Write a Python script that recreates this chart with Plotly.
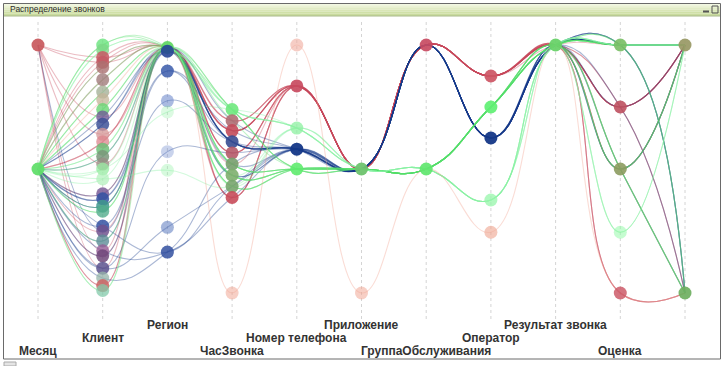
import plotly.graph_objects as go

# ---------------- data ----------------
dimensions = ["Месяц", "Клиент", "Регион", "ЧасЗвонка", "Номер телефона", "Приложение",
              "ГруппаОбслуживания", "Оператор", "Результат звонка", "Оценка", ""]

month_values = [100, 50]
client_values = [100, 98, 95, 93, 91, 86, 81, 78, 74, 71, 68, 64, 61, 58, 55, 52, 50, 46,
                 40, 38, 35, 33, 27, 25, 21, 17, 15, 10, 6, 3, 1]
region_values = [99, 97.5, 89.5, 77.5, 73, 57, 49.5, 26.5, 16.5]
hour_values = [74, 69.5, 65.5, 61, 56.5, 52, 47.5, 43, 38.5, 0]
phone_values = [100, 83.5, 66.5, 58, 50]
app_values = [50, 0]
group_values = [100, 50]
operator_values = [87.5, 75, 62.5, 37.5, 24.5]
result_values = [100]
score_values = [100, 75, 50, 24.5, 0]
last_values = [100, 0]

# records (category index per dimension)
rec_operator = [0]*18 + [2]*18 + [1]*15 + [3]*8 + [4]
rec_month = [1,0,0,1,1,1,0,0,1,1,0,1,1,0,1,1,1,0,
             1,1,1,1,1,1,1,1,1,0,1,1,1,1,1,1,1,1,
             1,1,1,1,1,1,1,1,1,1,1,1,1,1,1,
             1,1,1,1,1,1,1,1,
             1]
rec_client = [2,2,3,3,4,5,9,11,12,12,15,18,23,25,26,29,29,27,
              9,10,10,18,19,19,20,22,22,23,24,25,26,27,27,20,14,28,
              0,0,4,5,6,8,8,13,14,6,20,21,24,30,21,
              1,16,17,1,17,30,13,16,
              7]
rec_region = [0]*18 + \
             [1,1,0,1,2,0,1,2,8,3,0,8,1,7,5,0,1,8] + \
             [0]*15 + \
             [0,4,6,0,0,0,0,0] + \
             [0]
rec_hour = [2,1,2,4,1,8,2,8,4,2,8,4,2,1,8,4,2,5,
            3,3,1,3,3,5,3,2,7,3,6,8,3,7,4,3,6,5,
            0,5,1,6,7,0,5,6,7,5,6,0,7,6,5,
            0,0,7,0,6,0,7,0,
            9]
rec_phone = [1]*18 + [3]*18 + [4]*15 + [2]*8 + [0]
rec_app = [0]*59 + [1]
rec_group = [0]*36 + [1]*24
rec_result = [0]*60
rec_score = [1,1,1,4,1,2,1,4,1,2,1,0,1,2,1,4,1,2,
             0,0,1,0,2,0,1,0,0,2,0,0,0,0,2,0,0,0,
             0,0,2,0,0,2,0,2,0,2,0,0,2,0,2,
             3,0,3,0,3,0,0,0,
             4]
rec_last = [0,0,1,1,0,0,0,1,0,1,0,0,1,0,0,1,0,0,
            1,1,0,1,0,0,1,0,0,1,0,0,0,0,0,0,0,0,
            0,1,0,0,0,1,0,0,0,1,0,1,0,0,1,
            0,0,0,0,0,0,0,0,
            1]

# ---------------- style ----------------
operator_rgb = [(200, 72, 92), (82, 222, 104), (22, 58, 138), (132, 242, 160), (240, 158, 138)]

node_colors = [
    ["rgba(200,88,92,0.92)", "rgba(98,222,108,0.95)"],
    ["rgba(105,228,125,0.8)", "rgba(125,215,135,0.8)", "rgba(200,88,100,0.85)", "rgba(195,90,100,0.85)",
     "rgba(170,112,112,0.8)", "rgba(160,122,122,0.8)", "rgba(165,178,152,0.8)", "rgba(195,180,152,0.75)",
     "rgba(105,212,115,0.8)", "rgba(112,92,150,0.8)", "rgba(62,82,152,0.85)", "rgba(212,150,150,0.75)",
     "rgba(220,132,140,0.75)", "rgba(110,190,120,0.85)", "rgba(122,150,122,0.85)", "rgba(152,140,132,0.75)",
     "rgba(150,235,160,0.75)", "rgba(175,240,185,0.7)", "rgba(122,92,150,0.85)", "rgba(52,82,162,0.85)",
     "rgba(62,150,140,0.85)", "rgba(82,172,140,0.8)", "rgba(52,82,162,0.85)", "rgba(112,82,142,0.85)",
     "rgba(92,140,150,0.8)", "rgba(150,92,150,0.8)", "rgba(112,72,122,0.85)", "rgba(92,82,142,0.85)",
     "rgba(150,180,170,0.75)", "rgba(205,100,100,0.85)", "rgba(130,202,170,0.75)"],
    ["rgba(98,215,100,0.95)", "rgba(38,68,150,0.9)", "rgba(58,90,170,0.85)", "rgba(100,130,200,0.55)",
     "rgba(140,240,160,0.3)", "rgba(100,130,200,0.35)", "rgba(140,240,160,0.35)", "rgba(90,120,190,0.55)",
     "rgba(50,80,160,0.85)"],
    ["rgba(110,232,125,0.9)", "rgba(175,110,115,0.9)", "rgba(195,75,90,0.9)", "rgba(55,75,145,0.9)",
     "rgba(182,90,105,0.9)", "rgba(120,160,110,0.9)", "rgba(125,175,110,0.9)", "rgba(120,165,110,0.9)",
     "rgba(200,75,90,0.9)", "rgba(240,168,150,0.55)"],
    ["rgba(240,172,158,0.6)", "rgba(200,75,95,0.92)", "rgba(140,240,160,0.75)", "rgba(20,55,135,0.95)",
     "rgba(95,235,110,0.9)"],
    ["rgba(110,195,110,0.95)", "rgba(240,168,150,0.55)"],
    ["rgba(200,75,98,0.92)", "rgba(95,230,110,0.92)"],
    ["rgba(205,85,100,0.92)", "rgba(95,240,115,0.92)", "rgba(20,55,135,0.95)", "rgba(150,245,170,0.75)",
     "rgba(240,170,150,0.65)"],
    ["rgba(105,210,105,0.95)"],
    ["rgba(120,190,100,0.9)", "rgba(190,80,95,0.9)", "rgba(140,155,95,0.9)", "rgba(150,250,170,0.55)",
     "rgba(205,90,105,0.85)"],
    ["rgba(152,152,100,0.92)", "rgba(110,175,95,0.92)"],
]

W, H = 727, 366
value_lists = [month_values, client_values, region_values, hour_values, phone_values, app_values,
               group_values, operator_values, result_values, score_values, last_values]
rec_lists = [rec_month, rec_client, rec_region, rec_hour, rec_phone, rec_app,
             rec_group, rec_operator, rec_result, rec_score, rec_last]

fig = go.Figure()
n = len(rec_operator)
xs = list(range(len(dimensions)))
for i in range(n):
    ys = [value_lists[d][rec_lists[d][i]] for d in range(len(dimensions))]
    r, g, b = operator_rgb[rec_operator[i]]
    fig.add_trace(go.Scatter(x=xs, y=ys, mode="lines",
                             line=dict(color=f"rgba({r},{g},{b},0.36)", width=1.1,
                                       shape="spline", smoothing=1.3),
                             hoverinfo="skip", showlegend=False))

# one circle per used category node
mx, my, mc = [], [], []
for d in xs:
    used = sorted(set(rec_lists[d]))
    for c in used:
        mx.append(d)
        my.append(value_lists[d][c])
        mc.append(node_colors[d][c])
fig.add_trace(go.Scatter(x=mx, y=my, mode="markers",
                         marker=dict(size=13, color=mc, line=dict(width=0)),
                         hoverinfo="skip", showlegend=False))

def px(x):
    return x / W

def py(y):
    return 1 - y / H

shapes = []
for k in xs:
    shapes.append(dict(type="line", xref="x", yref="paper", x0=k, x1=k, y0=py(319), y1=py(20),
                       line=dict(color="#d4d4d4", width=1, dash="dot"), layer="below"))
bar_cols = ["#f2f7e2", "#ebf2d4", "#e2ecc6", "#d9e6b6", "#d0e0a8", "#c9db9e"]
for j, c in enumerate(bar_cols):
    y0 = 3 + j * 13 / len(bar_cols)
    y1 = 3 + (j + 1) * 13 / len(bar_cols)
    shapes.append(dict(type="rect", xref="paper", yref="paper", x0=px(3), x1=px(720),
                       y0=py(y1), y1=py(y0), fillcolor=c, line=dict(width=0), layer="below"))
shapes.append(dict(type="line", xref="paper", yref="paper", x0=px(3), x1=px(720), y0=py(16), y1=py(16),
                   line=dict(color="#a9b98a", width=1)))
shapes.append(dict(type="rect", xref="paper", yref="paper", x0=px(3.5), x1=px(720.5), y0=py(359), y1=py(3.5),
                   line=dict(color="#6a6a6a", width=1), fillcolor="rgba(0,0,0,0)"))
shapes.append(dict(type="line", xref="paper", yref="paper", x0=px(703), x1=px(709), y0=py(11.5), y1=py(11.5),
                   line=dict(color="#555", width=2)))
shapes.append(dict(type="rect", xref="paper", yref="paper", x0=px(712), x1=px(718), y0=py(13), y1=py(6),
                   line=dict(color="#555", width=1), fillcolor="rgba(0,0,0,0)"))
shapes.append(dict(type="rect", xref="paper", yref="paper", x0=px(4), x1=px(16), y0=py(366), y1=py(362),
                   line=dict(color="#aaa", width=1), fillcolor="#e4e4e4"))

annotations = [dict(text="Распределение звонков", xref="paper", yref="paper", x=px(7.5), y=py(9.5),
                    xanchor="left", yanchor="middle", showarrow=False,
                    font=dict(family="Liberation Sans, Arial", size=8.5, color="#2a2a2a"))]
for k, name in enumerate(dimensions):
    if not name:
        continue
    ypx = 351 - 13 * (k % 3)
    annotations.append(dict(text=f"<b>{name}</b>", xref="x", yref="paper", x=k, y=py(ypx),
                            xanchor="center", yanchor="middle", showarrow=False,
                            font=dict(family="Liberation Sans, Arial", size=12, color="#333")))

step = 64.7
fig.update_layout(
    width=W, height=H, autosize=False,
    margin=dict(l=0, r=0, t=0, b=0),
    paper_bgcolor="white", plot_bgcolor="white",
    xaxis=dict(range=[-38 / step, 10 + 42 / step], visible=False, fixedrange=True),
    yaxis=dict(range=[(293 - 366) / 2.48, 293 / 2.48], visible=False, fixedrange=True),
    shapes=shapes, annotations=annotations,
)

fig.write_html("out.html", config={"displayModeBar": False},
               post_script="document.body.style.margin='0px';document.body.style.overflow='hidden';")
